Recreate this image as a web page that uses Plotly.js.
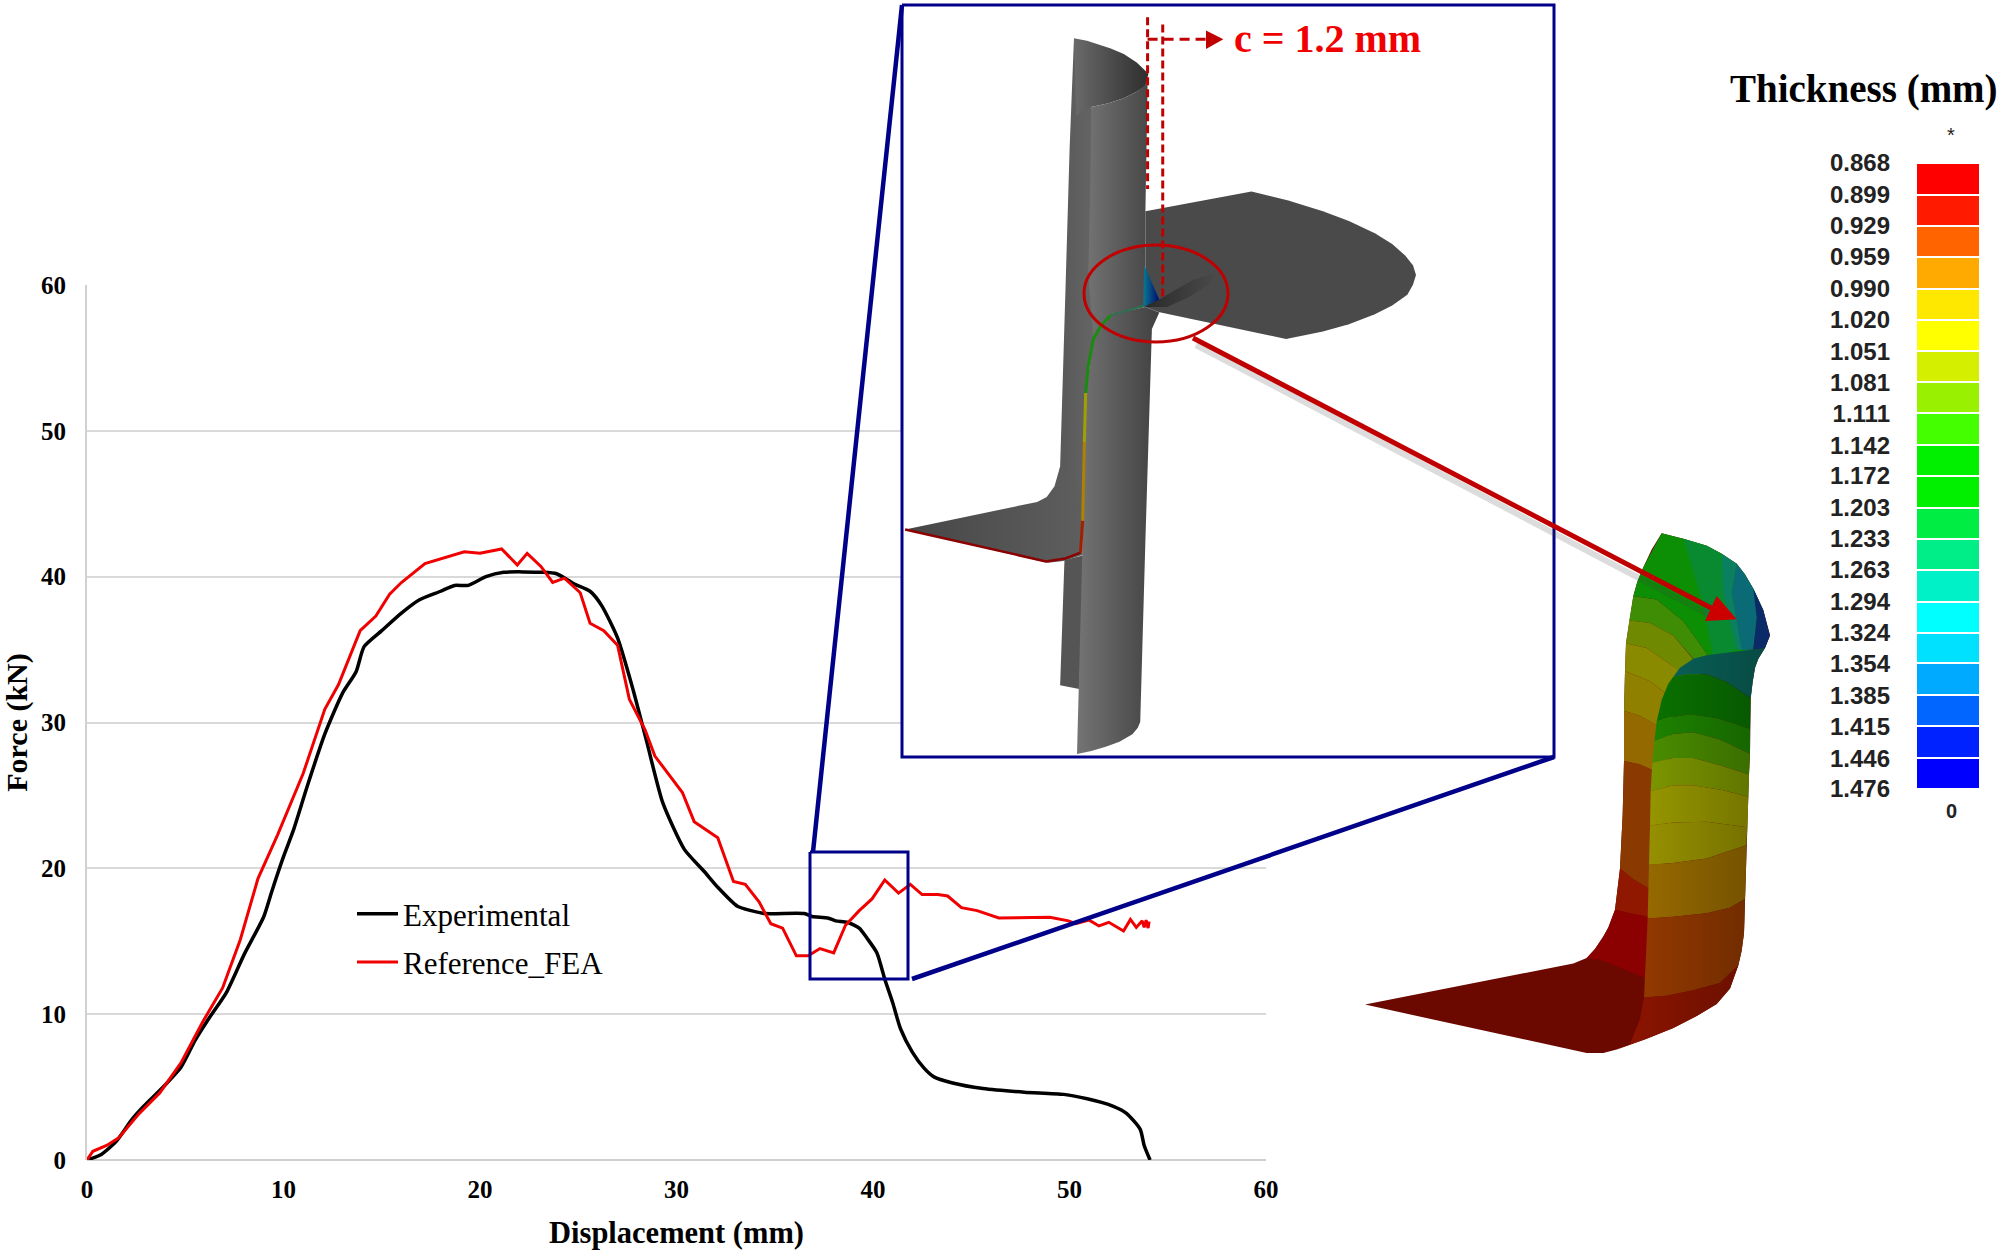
<!DOCTYPE html>
<html>
<head>
<meta charset="utf-8">
<script src="https://cdn.plot.ly/plotly-3.0.1.min.js"></script>
<style>html,body{margin:0;padding:0;background:#fff}</style>
</head>
<body>
<div id="chart" style="width:2001px;height:1251px"></div>
<script>
// force-displacement curves
var expX = [0,0.75,1.5,2.3,2.9,3.8,4.8,5.5,6.2,7.1,8,9,9.4,10,10.5,11.2,12.1,13,13.7,14.1,15,16,16.9,18,18.7,19.4,20.3,21.2,23.2,23.9,24.8,25.6,26.2,27,27.8,28.5,29.3,30.4,31.4,32.1,33.1,33.8,34.5,36.5,36.9,37.7,38.1,38.7,39.3,39.7,40.2,40.6,41,41.4,42,42.6,43.1,44,45.6,47.7,49.7,50.9,52.2,52.9,53.6,53.8,54.1];
var expY = [0,0.4,1.3,2.8,3.7,4.9,6.4,8.2,9.7,11.5,14.1,16.7,18.4,20.8,22.6,25.6,29.2,32,33.5,35.2,36.3,37.5,38.4,39,39.4,39.4,40,40.3,40.3,40.2,39.5,39,38,35.8,32.2,28.6,24.5,21.3,19.8,18.7,17.4,17.1,16.9,16.9,16.7,16.6,16.4,16.3,15.9,15.2,14.2,12.4,10.8,9,7.4,6.3,5.7,5.3,4.9,4.65,4.5,4.2,3.7,3.2,2.1,1,0];
var feaX = [0,0.3,1,1.6,2.6,3.7,4.8,5.9,6.9,7.8,8.7,9.7,11,12.1,12.8,13.9,14.7,15.4,16,17.2,19.2,20,21.1,21.9,22.4,23.1,23.7,24.3,25.1,25.6,26.3,27,27.6,28.4,28.9,30.3,30.9,32.1,32.9,33.5,34.2,34.8,35.4,36.1,36.7,37.3,38,38.6,39.3,39.95,40.6,41.3,41.9,42.5,43.3,43.8,44.5,45.3,46.4,49,49.95,50.3,51,51.5,52,52.75,53.1,53.4,53.7,53.8,53.9,54,54.05];
var feaY = [0,0.6,1,1.5,3.1,4.6,6.7,9.5,11.8,15.1,19.3,22.3,26.5,30.9,32.6,36.3,37.3,38.8,39.6,40.9,41.7,41.6,41.9,40.8,41.6,40.7,39.6,39.9,38.9,36.8,36.3,35.3,31.6,29.5,27.7,25.2,23.2,22.1,19.1,18.9,17.7,16.2,15.9,14,14,14.5,14.2,16.1,17.1,17.9,19.2,18.3,18.9,18.2,18.2,18.1,17.3,17.1,16.6,16.65,16.4,16.2,16.45,16.05,16.3,15.7,16.5,15.95,16.4,15.95,16.45,15.9,16.35];

// thickness scale
var thicknessLabels = ["0.868","0.899","0.929","0.959","0.990","1.020","1.051","1.081","1.111","1.142","1.172","1.203","1.233","1.263","1.294","1.324","1.354","1.385","1.415","1.446","1.476"];
var cellColors = ["#ff0000","#ff1a00","#ff6400","#ffaa00","#ffe800","#ffff00","#d4f000","#99f000","#44ff00","#00f000","#00f000","#00ee44","#00ee88","#00f0c8","#00ffff","#00e0ff","#00aaff","#0066ff","#0022ff","#0000ff"];

var W = 2001, H = 1251;
var serif = "Liberation Serif, Times New Roman, serif";
var navy = "#000088", darkRed = "#c00000";

// crop units -> page pixels for the two drawings
function inset(p) { return p.map(function (q) { return [890 + q[0] / 2.31, q[1] / 2.036]; }); }
function part(p) { return p.map(function (q) { return [1340 + q[0] / 3, 510 + q[1] / 2.79]; }); }

var traces = [
    { x: expX, y: expY, mode: "lines", name: "Experimental", legendgroup: "a", line: { color: "#000", width: 3.5, shape: "spline", smoothing: 0.6 }, hoverinfo: "skip" },
    { x: feaX, y: feaY, mode: "lines", name: "Reference_FEA", legendgroup: "b", line: { color: "#f00000", width: 3 }, hoverinfo: "skip" }
];

function overlay(t) {
    t.xaxis = "x2"; t.yaxis = "y2"; t.showlegend = false; t.hoverinfo = "skip";
    traces.push(t);
}
function poly(pts, fill, grad) {
    var t = { x: pts.map(function (q) { return q[0]; }), y: pts.map(function (q) { return q[1]; }),
        mode: "lines", fill: "toself", line: { width: 0 }, fillcolor: fill };
    if (grad) { t.fillgradient = { type: "horizontal", colorscale: [[0, grad[0]], [1, grad[1]]] }; }
    overlay(t);
}
function seg(pts, color, width, dash) {
    overlay({ x: pts.map(function (q) { return q[0]; }), y: pts.map(function (q) { return q[1]; }),
        mode: "lines", line: { color: color, width: width, dash: dash || "solid" } });
}

// zoom inset frame, white so the grid stops behind it
overlay({ x: [902, 1554, 1554, 902, 902], y: [5, 5, 757, 757, 5], mode: "lines", fill: "toself", fillcolor: "#fff", line: { color: navy, width: 3 } });

// wall pieces behind
poly(inset([[403,1140],[393,1395],[437,1403],[450,1130]]), "#555555");
poly(inset([[425,78],[415,300],[405,600],[393,950],[388,975],[445,1020],[452,800],[470,690],[510,640],[520,400],[465,218]]), "#606060", ["#585858", "#6c6c6c"]);
poly(inset([[425,78],[455,83],[480,90],[510,99],[540,110],[570,127],[597,150],[590,175],[570,187],[540,200],[505,210],[465,218],[430,235]]), "#555", ["#6a6a6a", "#2e2e2e"]);
// flanges
poly(inset([[590,430],[835,390],[920,408],[1000,430],[1060,450],[1120,475],[1160,497],[1190,520],[1208,540],[1215,560],[1208,580],[1195,600],[1160,622],[1120,640],[1060,660],[1000,675],[915,690],[620,635],[590,625]]), "#4a4a4a");
poly(inset([[35,1078],[340,1022],[362,1012],[380,990],[393,950],[445,1000],[445,1130],[400,1142],[365,1146]]), "#4a4a4a", ["#464646", "#5e5e5e"]);
poly(inset([[590,575],[622,610],[660,590],[700,570],[755,555],[735,580],[690,605],[640,625],[590,625]]), "#333", ["#2a2a2a", "#4a4a4a"]);
// upper and lower front wall
poly(inset([[465,218],[505,210],[540,200],[570,187],[595,170],[590,430],[590,625],[510,640],[470,690],[458,560],[462,400]]), "#666", ["#727272", "#484848"]);
poly(inset([[590,625],[510,640],[470,690],[452,800],[445,1100],[437,1400],[432,1535],[465,1529],[500,1520],[530,1510],[560,1495],[572,1482],[578,1470],[590,1100],[600,800],[605,670],[622,636]]), "#666", ["#747474", "#404040"]);
// thin coloured rim
seg(inset([[35,1078],[360,1143],[405,1137],[440,1125]]), "#8b0000", 2.5);
seg(inset([[440,1125],[445,1060]]), "#a02000", 3);
seg(inset([[445,1060],[449,900]]), "#b08000", 3);
seg(inset([[449,900],[452,800]]), "#a0a000", 3);
seg(inset([[452,800],[458,745],[470,690],[488,662],[510,642]]), "#1a8a10", 3);
seg(inset([[510,642],[588,622]]), "#2f6f4f", 2);
poly(inset([[587,540],[622,610],[585,625]]), "#063c78", ["#0a7a90", "#000a70"]);

// dashed clearance marks
seg(inset([[595,35],[595,385]]), darkRed, 3, "8px,4px");
seg(inset([[630,50],[630,610]]), darkRed, 3, "8px,4px");
seg(inset([[595,80],[730,80]]), darkRed, 3, "10px,6px");
poly(inset([[730,62],[770,80],[730,100]]), darkRed);

// formed part: silhouette edges
var leftEdge = [[965,65],[935,110],[910,160],[892,200],[880,240],[868,308],[858,372],[855,450],[852,560],[852,700],[848,850],[840,1000],[825,1115],[805,1165],[790,1190],[765,1225],[740,1250],[700,1265]];
var underEdge = [[75,1380],[740,1515],[790,1515],[830,1505],[920,1475],[1000,1445],[1070,1412],[1130,1378],[1170,1335],[1195,1270]];
var rightEdge = [[1275,385],[1255,415],[1245,440],[1238,480],[1232,525],[1230,610],[1230,680],[1227,738],[1225,800],[1222,885],[1219,935],[1218,1000],[1215,1085],[1212,1180],[1205,1230],[1195,1270]];
var topEdge = [[1275,385],[1290,350],[1270,280],[1255,250],[1240,220],[1215,180],[1190,150],[1145,122],[1100,100],[1030,80],[965,65]];
var seamEdge = [[1060,415],[1020,440],[985,485],[965,530],[950,590],[943,645],[937,705],[932,785],[930,880],[927,990],[923,1140],[915,1300],[912,1360],[900,1420],[870,1490],[830,1505]];

function between(edge, y0, y1) {
    return edge.filter(function (q) { return q[1] > y0 && q[1] < y1; });
}
function band(upper, lower, lEdge, rEdge, color) {
    var l = between(lEdge, upper[0][1], lower[0][1]);
    var r = between(rEdge, upper[upper.length - 1][1], lower[lower.length - 1][1]);
    poly(part(l.slice().reverse().concat(upper, r, lower.slice().reverse())), color);
}

poly(part(leftEdge.concat(underEdge, rightEdge.slice().reverse(), topEdge)), "#6b0800");

// rear wall: cross curves run on under the front wall, which is drawn after
var rearCurves = [
    [[880,240],[950,250],[1030,310],[1085,380],[1120,430]],
    [[868,308],[930,315],[1000,350],[1060,415],[1090,450]],
    [[858,372],[920,385],[990,430],[1020,450],[1060,480]],
    [[855,450],[930,478],[975,510],[1010,530]],
    [[852,560],[900,575],[948,598],[990,620]],
    [[852,700],[900,710],[935,725],[980,735]],
    [[840,1000],[880,1030],[925,1055],[970,1060]],
    [[825,1115],[870,1125],[925,1135],[970,1140]],
    [[740,1250],[780,1255],[850,1280],[915,1305],[960,1320]]
];
var rearColors = ["#3f8c05", "#6f8a00", "#8a8a00", "#908000", "#946a00", "#8a3a00", "#901800", "#8b0000"];
rearColors.forEach(function (c, i) {
    band(rearCurves[i], rearCurves[i + 1], leftEdge, [], c);
});
// top cap and the blue fan at the corner
poly(part(topEdge.slice(2).concat([[910,160],[892,200],[880,240],[950,250],[1030,310],[1085,380],[1120,430],[1230,400]])), "#0c8f05");
poly(part([[1030,80],[1100,100],[1145,122],[1150,230],[1190,390],[1120,410],[1085,250]]), "#0a8a30");
poly(part([[1145,122],[1190,150],[1175,230],[1205,390],[1190,390],[1150,230]]), "#0a8060");
poly(part([[1190,150],[1215,180],[1240,220],[1255,250],[1250,300],[1240,390],[1205,390],[1175,230]]), "#0a6a75");
poly(part([[1240,220],[1255,250],[1270,280],[1290,350],[1275,385],[1240,390],[1250,300]]), "#0a2a68");

// front wall
var frontCurves = [
    [[1060,415],[1100,405],[1190,395],[1275,385]],
    [[1000,465],[1040,458],[1100,458],[1160,480],[1232,525]],
    [[950,590],[990,578],[1050,570],[1130,580],[1230,610]],
    [[943,645],[1000,625],[1060,620],[1140,640],[1230,680]],
    [[937,705],[1000,692],[1060,692],[1140,712],[1227,738]],
    [[932,785],[1000,768],[1060,768],[1150,782],[1225,800]],
    [[930,880],[1000,872],[1100,870],[1222,885]],
    [[927,990],[1000,985],[1100,972],[1219,935]],
    [[923,1140],[1000,1135],[1100,1125],[1170,1110],[1215,1085]],
    [[912,1360],[980,1355],[1060,1340],[1140,1320],[1195,1270]],
    [[830,1505],[920,1475],[1000,1445],[1070,1412],[1130,1378],[1170,1335],[1195,1270]]
];
var frontColors = ["#0a6a60", "#0a7a00", "#1f8c00", "#4f9700", "#84a000", "#a0a000", "#a09a00", "#a07000", "#9a3c00", "#8f1500"];
frontColors.forEach(function (c, i) {
    band(frontCurves[i], frontCurves[i + 1], seamEdge, rightEdge, c);
});
// darken toward the right edge of the front wall
poly(part(seamEdge.concat(underEdge.slice(4), rightEdge.slice().reverse(), [[1190,395],[1100,405]])), "rgba(0,0,0,0.1)", ["rgba(0,0,0,0)", "rgba(0,0,0,0.3)"]);

// pointer from the circled zone to the part
seg([[1196,345],[1715,618]], "rgba(60,60,60,0.18)", 6);
seg([[1193,338],[1715,610]], darkRed, 5);
poly(part([[1130,240],[1190,305],[1095,310]]), "#cc0000");

// connectors and the zoom box on the curve
seg([[813,852],[902,5]], navy, 4.5);
seg([[912,979],[1554,757]], navy, 4.5);
seg([[810,852],[908,852],[908,979],[810,979],[810,852]], navy, 3);

// thickness scale as a heatmap, cell edges on the label values
var edges = thicknessLabels.map(Number);
var scale = [];
cellColors.forEach(function (c, i) {
    scale.push([i / cellColors.length, c]);
    scale.push([(i + 1) / cellColors.length, c]);
});
traces.push({
    type: "heatmap", xaxis: "x3", yaxis: "y3", x: [0, 1], y: edges,
    z: cellColors.map(function (c, i) { return [i + 0.5]; }),
    zmin: 0, zmax: cellColors.length, colorscale: scale, showscale: false, ygap: 2, hoverinfo: "skip"
});

var layout = {
    width: W, height: H,
    margin: { l: 0, r: 0, t: 0, b: 0 },
    paper_bgcolor: "#fff", plot_bgcolor: "rgba(0,0,0,0)",
    font: { family: serif, color: "#000" },
    xaxis: {
        domain: [87 / W, 1266 / W], range: [0, 60], tickvals: [0, 10, 20, 30, 40, 50, 60],
        showgrid: false, zeroline: false, showline: false, ticks: "",
        tickfont: { size: 25, family: serif, weight: 700 }, ticklabelstandoff: 12,
        title: { text: "<b>Displacement (mm)</b>", font: { size: 30.5, family: serif }, standoff: 19 }
    },
    yaxis: {
        domain: [(H - 1160) / H, (H - 285) / H], range: [0, 60], tickvals: [0, 10, 20, 30, 40, 50, 60],
        showgrid: true, gridcolor: "#d9d9d9", gridwidth: 2, zeroline: true, zerolinecolor: "#cfcfcf", zerolinewidth: 2,
        showline: true, linecolor: "#d0d0d0", linewidth: 2, ticks: "",
        tickfont: { size: 25, family: serif, weight: 700 }, ticklabelstandoff: 14,
        title: { text: "<b>Force (kN)</b>", font: { size: 30, family: serif }, standoff: 15 }
    },
    xaxis2: { domain: [0, 1], range: [0, W], visible: false, anchor: "y2", fixedrange: true },
    yaxis2: { domain: [0, 1], range: [H, 0], visible: false, anchor: "x2", fixedrange: true },
    xaxis3: { domain: [1917 / W, 1979 / W], range: [0, 1], visible: false, anchor: "y3" },
    yaxis3: {
        domain: [(H - 789) / H, (H - 163) / H], range: [1.476, 0.868], anchor: "x3",
        tickvals: edges, ticktext: thicknessLabels, showgrid: false, zeroline: false, ticks: "",
        tickfont: { size: 24, family: "Liberation Sans, Arial, sans-serif", color: "#222", weight: 700 }, ticklabelstandoff: 26
    },
    legend: {
        x: 352 / W, y: (H - 887) / H, xanchor: "left", yanchor: "top", bgcolor: "rgba(0,0,0,0)",
        font: { size: 31, family: serif }, itemwidth: 41, traceorder: "grouped", tracegroupgap: 5
    },
    shapes: [
        { type: "circle", xref: "x2", yref: "y2", x0: 1084, x1: 1228, y0: 245, y1: 342, line: { color: darkRed, width: 3 } }
    ],
    annotations: [
        { xref: "x2", yref: "y2", x: 1232, y: 38, xanchor: "left", text: "<b>c = 1.2 mm</b>", showarrow: false, font: { size: 40, color: "#f00000", family: serif } },
        { xref: "x2", yref: "y2", x: 1864, y: 89, text: "<b>Thickness (mm)</b>", showarrow: false, font: { size: 39, family: serif } },
        { xref: "x2", yref: "y2", x: 1951, y: 135, text: "*", showarrow: false, font: { size: 20, family: "Liberation Sans, Arial, sans-serif", color: "#222" } },
        { xref: "x2", yref: "y2", x: 1951, y: 811, text: "<b>0</b>", showarrow: false, font: { size: 20, family: "Liberation Sans, Arial, sans-serif", color: "#222" } }
    ],
    showlegend: true
};

Plotly.newPlot("chart", traces, layout, { displayModeBar: false, staticPlot: true });
</script>
</body>
</html>
